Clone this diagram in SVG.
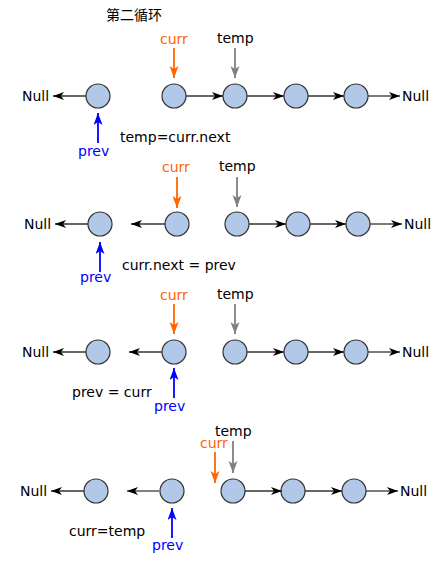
<svg xmlns="http://www.w3.org/2000/svg" width="435" height="567" viewBox="0 0 435 567">
<style>
text{font-family:"DejaVu Sans","Noto Sans CJK SC",sans-serif;font-size:14px;fill:#000}
.cjk{font-family:"Noto Sans CJK SC",sans-serif}
.o{fill:#FF6600}.b{fill:#0000FF}
circle{fill:#B1C8E8;stroke:#333;stroke-width:1.2}
.k{stroke:#333;stroke-width:1.3;fill:none;marker-end:url(#mk)}
.kg{stroke:#808080;stroke-width:2;fill:none;marker-end:url(#mk)}
.ao{stroke:#FF6600;stroke-width:1.8;fill:none;marker-end:url(#mo)}
.ag{stroke:#808080;stroke-width:1.8;fill:none;marker-end:url(#mg)}
.ab{stroke:#0000FF;stroke-width:1.8;fill:none;marker-end:url(#mb)}
</style>
<defs>
<marker id="mk" markerUnits="userSpaceOnUse" markerWidth="12" markerHeight="9" refX="11" refY="4" orient="auto"><path d="M0,0 L11,4 L0,8 L3,4 Z" fill="#000"/></marker>
<marker id="mo" markerUnits="userSpaceOnUse" markerWidth="13" markerHeight="10" refX="12" refY="4.5" orient="auto"><path d="M0,0 L12,4.5 L0,9 L3,4.5 Z" fill="#FF6600"/></marker>
<marker id="mg" markerUnits="userSpaceOnUse" markerWidth="13" markerHeight="10" refX="12" refY="4.5" orient="auto"><path d="M0,0 L12,4.5 L0,9 L3,4.5 Z" fill="#808080"/></marker>
<marker id="mb" markerUnits="userSpaceOnUse" markerWidth="13" markerHeight="10" refX="12" refY="4.5" orient="auto"><path d="M0,0 L12,4.5 L0,9 L3,4.5 Z" fill="#0000FF"/></marker>
</defs>
<text class="cjk" x="106" y="20">第二循环</text>

<g id="row1">
<text x="22" y="101">Null</text>
<text x="402" y="101">Null</text>
<g id="r1n1"><circle cx="98" cy="96" r="12"/></g>
<g id="r1n2"><circle cx="174" cy="96" r="12"/></g>
<g id="r1n3"><circle cx="235" cy="96" r="12"/></g>
<g id="r1n4"><circle cx="296" cy="96" r="12"/></g>
<g id="r1n5"><circle cx="356" cy="96" r="12"/></g>
<text class="o" x="160" y="44">curr</text>
<text x="217" y="43">temp</text>
<text class="b" x="78" y="156">prev</text>
<text x="120" y="142">temp=curr.next</text>
</g>

<g id="row2">
<text x="24" y="229">Null</text>
<text x="404" y="229">Null</text>
<g id="r2n1"><circle cx="100" cy="224" r="12"/></g>
<g id="r2n2"><circle cx="177" cy="224" r="12"/></g>
<g id="r2n3"><circle cx="237" cy="224" r="12"/></g>
<g id="r2n4"><circle cx="298" cy="224" r="12"/></g>
<g id="r2n5"><circle cx="358" cy="224" r="12"/></g>
<text class="o" x="162" y="172">curr</text>
<text x="219" y="171">temp</text>
<text class="b" x="80" y="282">prev</text>
<text x="122" y="270">curr.next = prev</text>
</g>

<g id="row3">
<text x="22" y="357">Null</text>
<text x="402" y="357">Null</text>
<g id="r3n1"><circle cx="98" cy="352" r="12"/></g>
<g id="r3n2"><circle cx="174" cy="352" r="12"/></g>
<g id="r3n3"><circle cx="235" cy="352" r="12"/></g>
<g id="r3n4"><circle cx="296" cy="352" r="12"/></g>
<g id="r3n5"><circle cx="356" cy="352" r="12"/></g>
<text class="o" x="160" y="300">curr</text>
<text x="217" y="299">temp</text>
<text class="b" x="154" y="411">prev</text>
<text x="72" y="397">prev = curr</text>
</g>

<g id="row4">
<text x="20" y="496">Null</text>
<text x="400" y="496">Null</text>
<g id="r4n1"><circle cx="96" cy="491" r="12"/></g>
<g id="r4n2"><circle cx="172" cy="491" r="12"/></g>
<g id="r4n3"><circle cx="233" cy="491" r="12"/></g>
<g id="r4n4"><circle cx="293" cy="491" r="12"/></g>
<g id="r4n5"><circle cx="354" cy="491" r="12"/></g>
<text x="215" y="436">temp</text>
<text class="o" x="200" y="448">curr</text>
<text class="b" x="152" y="550">prev</text>
<text x="69" y="536">curr=temp</text>
</g>

<g id="connectors">
<path class="k" d="M86,96 H53"/>
<path class="k" d="M186,96 H223"/>
<path class="k" d="M247,96 H284"/>
<path class="k" d="M308,96 H344"/>
<path class="k" d="M368,96 H400"/>
<path class="ao" d="M174,48 V78"/>
<path class="ag" d="M235,48 V78"/>
<path class="ab" d="M98,143 V113"/>

<path class="k" d="M88,224 H55"/>
<path class="k" d="M165,224 H131"/>
<path class="k" d="M249,224 H286"/>
<path class="k" d="M310,224 H346"/>
<path class="k" d="M370,224 H402"/>
<path class="ao" d="M177,177 V208"/>
<path class="ag" d="M237,177 V207"/>
<path class="ab" d="M100,272 V242"/>

<path class="k" d="M86,352 H53"/>
<path class="k" d="M162,352 H129"/>
<path class="k" d="M247,352 H284"/>
<path class="k" d="M308,352 H344"/>
<path class="k" d="M368,352 H400"/>
<path class="ao" d="M174,304 V334"/>
<path class="ag" d="M235,304 V334"/>
<path class="ab" d="M174,398 V368"/>

<path class="k" d="M84,491 H51"/>
<path class="kg" d="M160,491 H127"/>
<path class="k" d="M245,491 H282"/>
<path class="k" d="M305,491 H342"/>
<path class="k" d="M366,491 H398"/>
<path class="ag" d="M233,441 V473"/>
<path class="ao" d="M215,452 V483"/>
<path class="ab" d="M172,538 V508"/>
</g>
</svg>
